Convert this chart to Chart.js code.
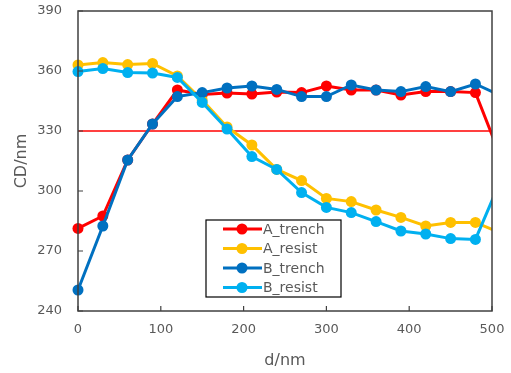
<!DOCTYPE html>
<html>
<head>
<meta charset="utf-8">
<script src="https://cdn.jsdelivr.net/npm/chart.js@4/dist/chart.umd.min.js"></script>
<style>
  html, body { margin: 0; padding: 0; background: #fff; }
  #wrap { width: 511px; height: 373px; position: relative; }
</style>
</head>
<body>
<div id="wrap"><canvas id="c" width="511" height="373"></canvas></div>
<script>
// ---- data ----
const dValues = [0, 30, 60, 90, 120, 150, 180, 210, 240, 270, 300, 330, 360, 390, 420, 450, 480, 510];
const seriesNames = ['A_trench', 'A_resist', 'B_trench', 'B_resist'];
const aTrench = [281.3, 287.5, 315.5, 333.5, 350.5, 348.3, 349.0, 348.5, 349.5, 349.2, 352.5, 350.5, 350.5, 348.0, 349.7, 349.7, 349.2, 317.5];
const aResist = [363.0, 364.2, 363.2, 363.8, 357.5, 345.5, 332.0, 323.0, 310.8, 305.2, 296.3, 294.7, 290.5, 286.8, 282.5, 284.3, 284.3, 279.0];
const bTrench = [250.5, 282.5, 315.5, 333.5, 347.2, 349.2, 351.5, 352.5, 350.8, 347.2, 347.2, 353.0, 350.5, 349.7, 352.2, 349.7, 353.5, 347.8];
const bResist = [359.7, 361.2, 359.2, 359.0, 356.8, 344.3, 331.0, 317.2, 310.8, 299.2, 291.8, 289.2, 284.7, 280.0, 278.5, 276.2, 275.8, 304.9];
const refLevel = 330;
const xRange = [0, 500];
const yRange = [240, 390];
const xTickStep = 100;
const yTickStep = 30;

const colors = ['#FF0000', '#FFC000', '#0070C0', '#00B0F0'];
const allSeries = [aTrench, aResist, bTrench, bResist];
const textColor = '#595959';
const FONT = 'DejaVu Sans';

function pts(vals) { return vals.map((v, i) => ({ x: dValues[i], y: v })); }

const datasets = allSeries.map((vals, i) => ({
  label: seriesNames[i],
  data: pts(vals),
  borderColor: colors[i],
  backgroundColor: colors[i],
  borderWidth: 3,
  pointRadius: 5.5,
  pointHoverRadius: 5.5,
  pointBorderWidth: 0,
  tension: 0,
  order: 4 - i,
  clip: { left: 10, top: 10, right: 0, bottom: 10 }
}));
datasets.push({
  label: '_ref',
  data: [{ x: xRange[0], y: refLevel }, { x: xRange[1], y: refLevel }],
  borderColor: '#FF0000',
  borderWidth: 1.5,
  pointRadius: 0,
  order: 10,
  clip: 0
});

const framePlugin = {
  id: 'frame',
  afterDraw(chart) {
    const ctx = chart.ctx;
    const a = chart.chartArea;
    const xs = chart.scales.x, ys = chart.scales.y;
    ctx.save();
    ctx.strokeStyle = '#404040';
    ctx.lineWidth = 1.5;
    ctx.strokeRect(a.left, a.top, a.right - a.left, a.bottom - a.top);
    ctx.lineWidth = 1.2;
    ctx.beginPath();
    xs.ticks.forEach(t => {
      const px = xs.getPixelForValue(t.value);
      ctx.moveTo(px, a.bottom);
      ctx.lineTo(px, a.bottom - 5);
    });
    ys.ticks.forEach(t => {
      const py = ys.getPixelForValue(t.value);
      ctx.moveTo(a.left, py);
      ctx.lineTo(a.left + 5, py);
    });
    ctx.stroke();

    // legend
    const lx = 206, ly = 220, lw = 135, lh = 77;
    ctx.fillStyle = '#ffffff';
    ctx.fillRect(lx, ly, lw, lh);
    ctx.strokeStyle = '#000000';
    ctx.lineWidth = 1.2;
    ctx.strokeRect(lx, ly, lw, lh);
    const rowY = [229, 248.5, 268, 287.5];
    ctx.font = '14px "' + FONT + '"';
    ctx.textBaseline = 'middle';
    ctx.textAlign = 'left';
    seriesNames.forEach((name, i) => {
      const y = rowY[i];
      ctx.strokeStyle = colors[i];
      ctx.lineWidth = 3;
      ctx.beginPath();
      ctx.moveTo(223, y);
      ctx.lineTo(262, y);
      ctx.stroke();
      ctx.fillStyle = colors[i];
      ctx.beginPath();
      ctx.arc(242, y, 5.5, 0, Math.PI * 2);
      ctx.fill();
      ctx.fillStyle = textColor;
      ctx.fillText(name, 263, y + 1);
    });
    ctx.restore();
  }
};

function zeroPad(s) { s.paddingTop = 0; s.paddingBottom = 0; s.paddingLeft = 0; s.paddingRight = 0; }

new Chart(document.getElementById('c'), {
  type: 'line',
  data: { datasets },
  options: {
    responsive: false,
    animation: false,
    events: [],
    layout: { padding: { left: 0, top: 11, right: 19, bottom: 0 } },
    plugins: { legend: { display: false }, tooltip: { enabled: false } },
    scales: {
      x: {
        type: 'linear',
        min: xRange[0], max: xRange[1],
        grid: { display: false, drawTicks: false },
        border: { display: false },
        ticks: { stepSize: xTickStep, color: textColor, font: { family: FONT, size: 13 }, padding: 11, maxRotation: 0 },
        title: { display: true, text: 'd/nm', color: textColor, font: { family: FONT, size: 16 }, padding: { top: 0, bottom: 3 } },
        afterFit(s) { s.height = 62; zeroPad(s); }
      },
      y: {
        type: 'linear',
        min: yRange[0], max: yRange[1],
        grid: { display: false, drawTicks: false },
        border: { display: false },
        ticks: { stepSize: yTickStep, color: textColor, font: { family: FONT, size: 13 }, padding: 16 },
        title: { display: true, text: 'CD/nm', color: textColor, font: { family: FONT, size: 16 }, padding: { top: 12, bottom: 0 } },
        afterFit(s) { s.width = 78; zeroPad(s); }
      }
    }
  },
  plugins: [framePlugin]
});
</script>
</body>
</html>
